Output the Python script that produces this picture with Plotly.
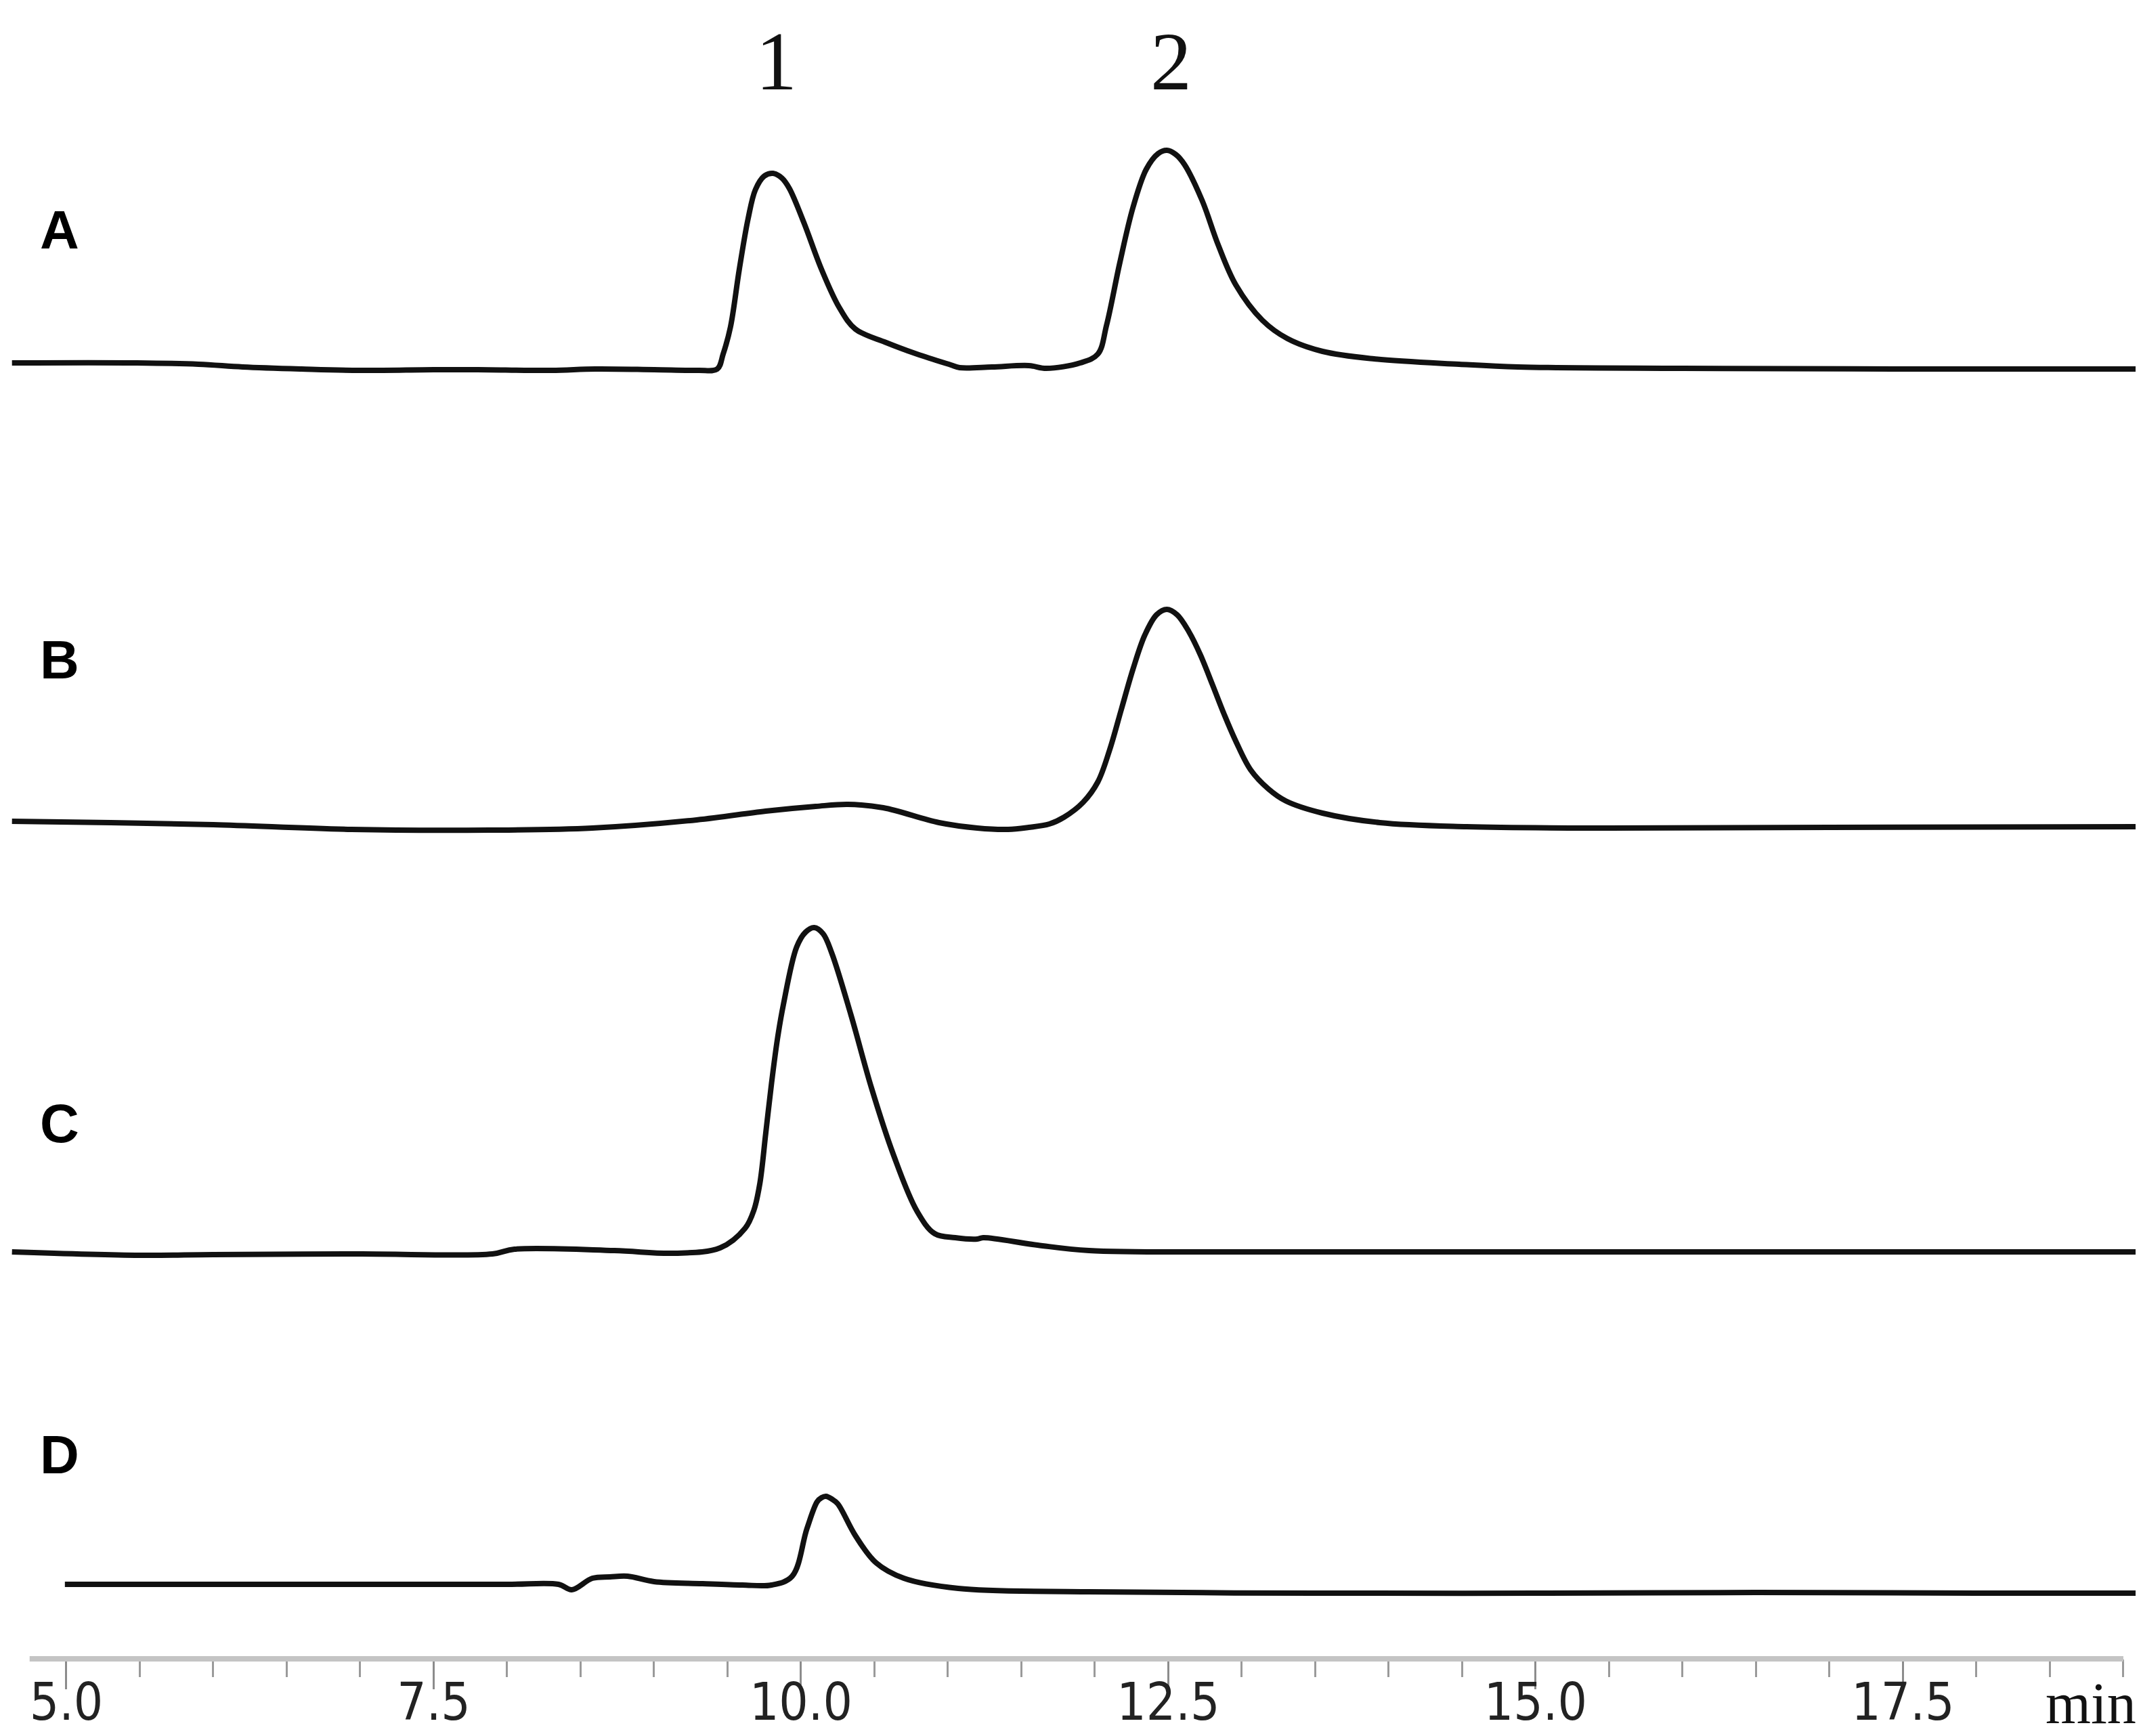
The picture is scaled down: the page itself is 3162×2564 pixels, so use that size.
import plotly.graph_objects as go

# ---- data (retention time in min, detector signal in arbitrary units above each baseline) ----
a_time = [4.63, 5.48, 5.9, 6.2, 6.6, 7.0, 7.5, 7.8, 8.3, 8.6, 9.0, 9.3, 9.43, 9.47, 9.52, 9.58,
          9.64, 9.69, 9.75, 9.81, 9.87, 9.92, 10.02, 10.14, 10.26, 10.37, 10.58, 10.79, 11.02,
          11.08, 11.3, 11.55, 11.67, 11.90, 12.02, 12.08, 12.17, 12.26, 12.35, 12.43, 12.49,
          12.55, 12.61, 12.73, 12.84, 12.96, 13.14, 13.31, 13.55, 13.9, 14.48, 14.88, 16.0,
          17.5, 19.11]
a_signal = [12, 12, 10, 6, 3, 1, 2, 2, 1, 3, 2, 1, 3, 25, 65, 150,
            225, 268, 288, 292, 285, 270, 219, 150, 94, 62, 42, 25, 9,
            5, 6, 8, 4, 12, 25, 68, 160, 242, 298, 321, 326,
            320, 305, 252, 186, 127, 75, 48, 29, 18, 10, 6, 4,
            3, 3]

b_time = [4.63, 5.3, 6.0, 6.94, 7.88, 8.58, 9.29, 9.76, 10.1, 10.32, 10.56, 10.94, 11.2, 11.41,
          11.55, 11.69, 11.79, 11.92, 12.02, 12.10, 12.18, 12.26, 12.34, 12.42, 12.49, 12.56,
          12.64, 12.72, 12.80, 12.88, 12.96, 13.06, 13.18, 13.30, 13.55, 13.94, 14.53, 15.5,
          17.0, 19.11]
b_signal = [10, 8, 5, -2, -3, 0, 12, 25, 32, 35, 30, 8, 0, -2,
            1, 6, 16, 38, 68, 115, 175, 235, 285, 315, 323, 315,
            290, 255, 212, 168, 128, 86, 58, 40, 22, 8, 2, 0,
            1, 2]

c_time = [4.63, 5.5, 6.0, 7.0, 7.9, 8.05, 8.73, 9.14, 9.45, 9.62, 9.68, 9.72, 9.76, 9.80, 9.84,
          9.88, 9.97, 10.03, 10.09, 10.15, 10.21, 10.34, 10.48, 10.63, 10.79, 10.91, 11.05,
          11.20, 11.24, 11.61, 11.96, 13.0, 15.0, 17.0, 19.11]
c_signal = [0, -5, -4, -3, -3, 4, 2, -2, 6, 35, 62, 101, 175, 250, 315,
            365, 450, 472, 479, 470, 441, 350, 242, 143, 60, 27, 21,
            19, 21, 10, 2, 0, 0, 0, 0]

d_time = [4.99, 6.0, 7.0, 8.0, 8.35, 8.44, 8.58, 8.7, 8.82, 9.0, 9.33, 9.6, 9.80, 9.94, 10.04,
          10.11, 10.14, 10.17, 10.21, 10.25, 10.37, 10.51, 10.70, 11.07, 11.96, 13.5, 15.0,
          16.5, 18.0, 19.11]
d_signal = [13, 13, 13, 13, 13, 5, 22, 24, 25, 17, 14, 12, 12, 25, 95,
            135, 141, 143, 139, 132, 85, 45, 22, 7, 2, 0, 0,
            1, 0, 0]

panel_names = ["A", "B", "C", "D"]
peak_names = ["1", "2"]
peak_times = [9.83, 12.52]
major_ticks = [5.0, 7.5, 10.0, 12.5, 15.0, 17.5]
tick_labels = ["5.0", "7.5", "10.0", "12.5", "15.0", "17.5"]

# ---- layout constants (pixels) ----
W, H = 3162, 2564
AXIS_Y = 2442                      # pixel row of the time axis
PLOT_H = AXIS_Y
baselines_px = [540, 1215, 1841, 2345]   # pixel row of each trace's baseline
label_px = [331, 966, 1652, 2140]


def paper_y(px):
    return (AXIS_Y - px) / PLOT_H


fig = go.Figure()

series = [(a_time, a_signal), (b_time, b_signal), (c_time, c_signal), (d_time, d_signal)]
for (t, s), base, name in zip(series, baselines_px, panel_names):
    offset = AXIS_Y - base
    fig.add_trace(go.Scatter(
        x=t, y=[v + offset for v in s], mode="lines", name=name,
        line=dict(color="#111111", width=8, shape="spline", smoothing=1.0),
        hoverinfo="skip",
    ))

# panel letters
for name, ypx in zip(panel_names, label_px):
    fig.add_annotation(
        x=80 / W, xref="paper", y=paper_y(ypx), yref="paper",
        xanchor="center", yanchor="middle",
        text=f"<b>{name}</b>", showarrow=False,
        font=dict(family="Liberation Sans, Arial", size=80, color="#000000"),
    )

# peak numbers
for name, t in zip(peak_names, peak_times):
    fig.add_annotation(
        x=t, xref="x", y=paper_y(82), yref="paper",
        xanchor="center", yanchor="middle",
        text=name, showarrow=False,
        font=dict(family="Liberation Serif, Times New Roman", size=122, color="#111111"),
    )

# axis line (spans 4.75 .. 19.0 min)
fig.add_shape(type="line", xref="x", yref="paper", x0=4.75, x1=19.0, y0=0, y1=0,
              line=dict(color="#c4c4c4", width=8), layer="above")

# unit label
fig.add_annotation(
    x=18.78, xref="x", y=0, yref="paper", yshift=-66, xanchor="center", yanchor="middle",
    text="min", showarrow=False,
    font=dict(family="Liberation Serif, Times New Roman", size=86, color="#111111"),
)

minor_vals = [5.0 + 0.5 * i for i in range(29) if (0.5 * i) % 2.5 != 0]

fig.update_layout(
    width=W, height=H, autosize=False,
    margin=dict(l=0, r=0, t=0, b=H - AXIS_Y, pad=0),
    paper_bgcolor="white", plot_bgcolor="white",
    showlegend=False,
    xaxis=dict(
        range=[4.5853, 19.157], showgrid=False, zeroline=False, showline=False,
        automargin=False,
        tickmode="array", tickvals=major_ticks, ticktext=tick_labels,
        ticks="outside", ticklen=44, tickwidth=3, tickcolor="#8c8c8c",
        ticklabelstandoff=-46,
        tickfont=dict(family="Liberation Sans Narrow, DejaVu Sans Condensed, Liberation Sans",
                      size=76, color="#222222"),
        minor=dict(tickmode="array", tickvals=minor_vals, ticks="outside",
                   ticklen=26, tickwidth=3, tickcolor="#9a9a9a"),
        fixedrange=True,
    ),
    yaxis=dict(range=[0, PLOT_H], visible=False, fixedrange=True, automargin=False),
)

fig.write_html("out.html")
